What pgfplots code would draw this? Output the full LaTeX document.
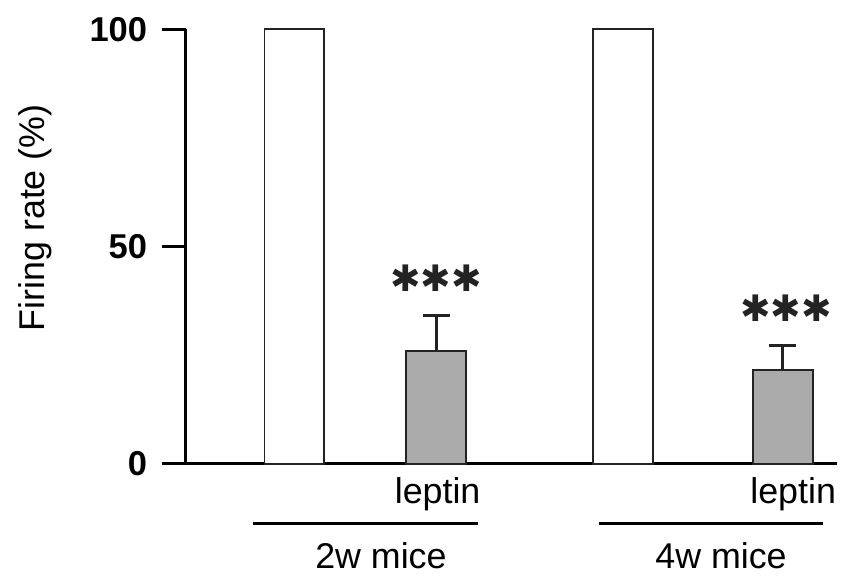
\documentclass[border=0pt]{standalone}
\usepackage{pgfplots}
\usepackage{pgfplotstable}
\pgfplotsset{compat=1.18}
\usepackage{fontspec}
\setmainfont{Liberation Sans}
\newfontfamily\symfont{DejaVu Sans}

% x in axis units (bar centres), y in %
\pgfplotstableread{
x y err
109 100 0
439.5 100 0
}\ctrl
\pgfplotstableread{
x y err
251.5 26.0 8.2
600 21.6 5.7
}\lep

\definecolor{bargray}{RGB}{170,170,170}
\definecolor{edge}{RGB}{35,35,35}

\begin{document}
\begin{tikzpicture}
\begin{axis}[
    width=196.5pt, height=131pt, scale only axis,
    xmin=0, xmax=655, ymin=0, ymax=100,
    axis x line=bottom, axis y line=left,
    axis line style={line width=0.9pt, -, black},
    xtick=\empty,
    ytick={0,50,100},
    tick align=outside,
    major tick length=7.2pt,
    ytick style={line width=0.9pt, black},
    /pgf/number format/assume math mode=true,
    yticklabel style={font=\fontsize{10.4}{12}\selectfont\bfseries, xshift=-1pt},
    ylabel={Firing rate (\%)},
    ylabel style={font=\fontsize{10.8}{13}\selectfont,
        at={(axis description cs:-0.232,0.566)}, anchor=center},
    ybar, bar width=60, bar shift=0pt,
    clip=false,
]
\addplot[fill=white, draw=edge, line width=0.55pt] table[x=x, y=y] {\ctrl};
\addplot[fill=bargray, draw=edge, line width=0.6pt,
    error bars/.cd, y dir=plus, y explicit,
    error bar style={line width=0.9pt, edge},
    error mark options={line width=0.9pt, mark size=4.05pt, edge, rotate=90}]
    table[x=x, y=y, y error=err] {\lep};

% significance
\node[font=\symfont\fontsize{11}{11}\selectfont, text=edge] at (axis cs:251.5,42.6) {✱✱✱};
\node[font=\symfont\fontsize{11}{11}\selectfont, text=edge] at (axis cs:603.5,35.7) {✱✱✱};

% group labels
\node[font=\fontsize{10.8}{13}\selectfont] at (axis cs:253,-7.1) {leptin};
\node[font=\fontsize{10.8}{13}\selectfont] at (axis cs:610.5,-7.1) {leptin};
\draw[line width=0.9pt] (axis cs:67,-13.75) -- (axis cs:294,-13.75);
\draw[line width=0.9pt] (axis cs:415,-13.75) -- (axis cs:641,-13.75);
\node[font=\fontsize{10.8}{13}\selectfont] at (axis cs:196,-21.1) {2w mice};
\node[font=\fontsize{10.8}{13}\selectfont] at (axis cs:538,-21.1) {4w mice};

\path (axis cs:-187,-27.26) rectangle (axis cs:660,106.76);
\end{axis}
\end{tikzpicture}
\end{document}
